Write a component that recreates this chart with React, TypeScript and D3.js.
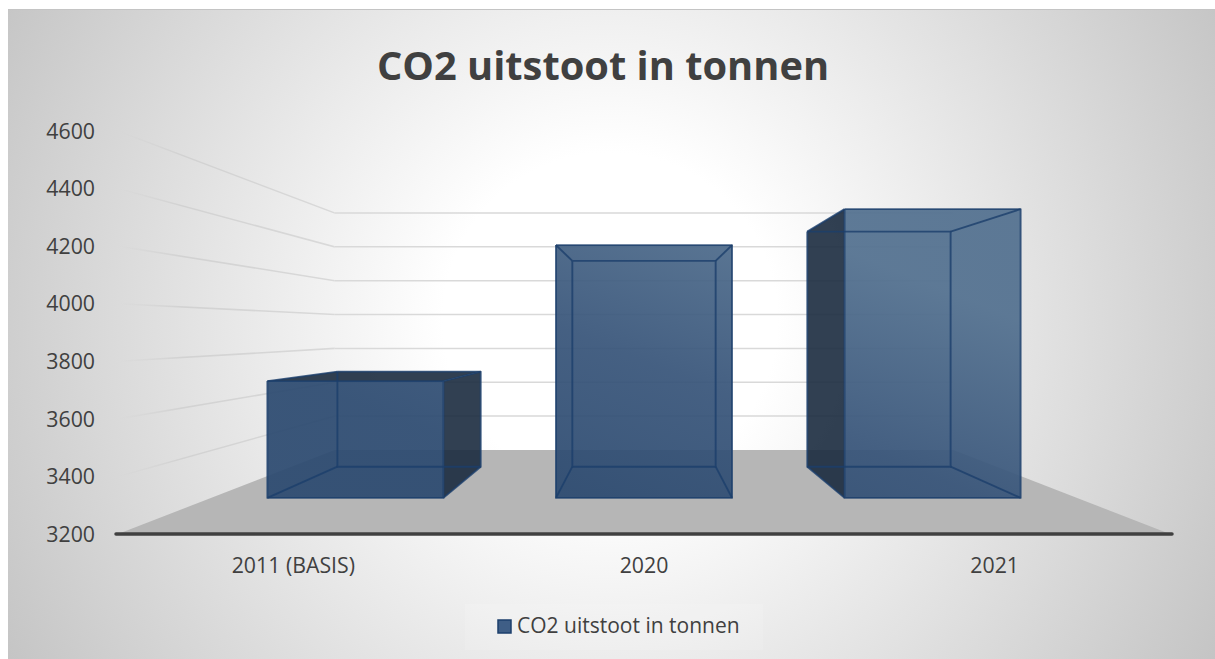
import React from "react";
import * as d3 from "d3";

const categories = ["2011 (BASIS)", "2020", "2021"];
const co2Values = [3693, 4267, 4419];
const yTicks = [3200, 3400, 3600, 3800, 4000, 4200, 4400, 4600];
const chartTitle = "CO2 uitstoot in tonnen";
const seriesName = "CO2 uitstoot in tonnen";

const W = 1215, H = 659;
const vp = { x: 644, y: 330 };
const DEPTH = { front: 1, barFront: 0.823, barBack: 0.67, back: 0.588 };
const x = d3.scaleBand<string>().domain(categories).range([118, 1170]).paddingInner(0.39).paddingOuter(0.195);
const y = d3.scaleLinear().domain([3200, 4600]).range([534, 131]);
const proj = (xf: number, v: number, s: number): [number, number] => [vp.x + (xf - vp.x) * s, vp.y + (y(v) - vp.y) * s];
const poly = (pts: [number, number][]) => (d3.line()(pts) as string) + "Z";
const FONT = "'Open Sans', sans-serif";
const EDGE = "#1c3f6c";

function Bar({ cat, value }: { cat: string; value: number }) {
  const x0 = x(cat)!, x1 = x0 + x.bandwidth();
  const b = 3200;
  const F = { bl: proj(x0, b, DEPTH.barFront), br: proj(x1, b, DEPTH.barFront), tl: proj(x0, value, DEPTH.barFront), tr: proj(x1, value, DEPTH.barFront) };
  const K = { bl: proj(x0, b, DEPTH.barBack), br: proj(x1, b, DEPTH.barBack), tl: proj(x0, value, DEPTH.barBack), tr: proj(x1, value, DEPTH.barBack) };
  const outerFaces: [number, number][][] = [];
  if (K.tl[0] < F.tl[0]) outerFaces.push([F.tl, K.tl, K.bl, F.bl]);
  if (K.tr[0] > F.tr[0]) outerFaces.push([F.tr, K.tr, K.br, F.br]);
  if (K.tl[1] < F.tl[1]) outerFaces.push([F.tl, F.tr, K.tr, K.tl]);
  const edges: [number, number][][] = [
    [K.tl, K.tr, K.br, K.bl, K.tl],
    [F.tl, K.tl], [F.tr, K.tr], [F.bl, K.bl], [F.br, K.br],
    [F.tl, F.tr, F.br, F.bl, F.tl],
  ];
  return (
    <g>
      {outerFaces.map((f, i) => (
        <path key={i} d={poly(f)} fill="#1b2b3f" fillOpacity={0.9} stroke="none" />
      ))}
      <path d={poly([F.tl, F.tr, F.br, F.bl])} fill="url(#barFill)" fillOpacity={0.93} />
      {edges.map((e, i) => (
        <path key={i} d={d3.line()(e) as string} fill="none" stroke={EDGE} strokeOpacity={0.8} strokeWidth={1.9} strokeLinejoin="round" />
      ))}
    </g>
  );
}

export default function App() {
  return (
    <svg width={W} height={H} style={{ position: "absolute", left: 0, top: 0, display: "block" }}>
      <defs>
        <radialGradient id="bg" gradientUnits="userSpaceOnUse" cx={0} cy={0} r={1} gradientTransform="translate(610 320) scale(760 760)">
          <stop offset="0.22" stopColor="#ffffff" />
          <stop offset="1" stopColor="#bdbdbd" />
        </radialGradient>
        <linearGradient id="barFill" gradientUnits="userSpaceOnUse" x1={720} y1={200} x2={600} y2={500}>
          <stop offset="0" stopColor="#52708f" />
          <stop offset="0.55" stopColor="#375479" />
          <stop offset="1" stopColor="#2c4a70" />
        </linearGradient>
        <linearGradient id="wall" gradientUnits="objectBoundingBox" x1="0" y1="0" x2="1" y2="0">
          <stop offset="0" stopColor="#d0d0d0" stopOpacity={0} />
          <stop offset="0.3" stopColor="#d0d0d0" stopOpacity={0.9} />
          <stop offset="1" stopColor="#d9d9d9" stopOpacity={1} />
        </linearGradient>
      </defs>
      <rect x={8} y={9} width={W - 8} height={H - 9} fill="url(#bg)" />
      <line x1={8} x2={W} y1={9.5} y2={9.5} stroke="#c4c4c4" />
      <path d={poly([proj(118, 3200, DEPTH.front), proj(1170, 3200, DEPTH.front), proj(1170, 3200, DEPTH.back), proj(118, 3200, DEPTH.back)])} fill="#b6b6b6" />
      {yTicks.slice(1).map((t) => {
        const a = proj(118, t, DEPTH.front), c = proj(118, t, DEPTH.back), d = proj(1170, t, DEPTH.back);
        return (
          <g key={t}>
            <polygon points={`${a[0]},${a[1] - 0.8} ${c[0]},${c[1] - 0.8} ${c[0]},${c[1] + 0.8} ${a[0]},${a[1] + 0.8}`} fill="url(#wall)" />
            <line x1={c[0]} x2={d[0]} y1={c[1]} y2={d[1]} stroke="#d9d9d9" strokeWidth={1.5} />
          </g>
        );
      })}
      {categories.map((c, i) => (
        <Bar key={c} cat={c} value={co2Values[i]} />
      ))}
      <line x1={116} x2={1172} y1={y(3200)} y2={y(3200)} stroke="#404040" strokeWidth={3.5} strokeLinecap="round" />
      <g fontFamily={FONT} fill="#404040" fontSize={21.3}>
        {yTicks.map((t) => (
          <text key={t} x={95} y={y(t)} dy="0.36em" textAnchor="end">{t}</text>
        ))}
        {categories.map((c) => (
          <text key={c} x={x(c)! + x.bandwidth() / 2} y={573} textAnchor="middle">{c}</text>
        ))}
      </g>
      <text x={603} y={80} textAnchor="middle" fontFamily={FONT} fontWeight={700} fontSize={39.8} fill="#404040">{chartTitle}</text>
      <rect x={465} y={604} width={298} height={46} fill="#ffffff" fillOpacity={0.12} />
      <rect x={498} y={620} width={13} height={13} fill="#3f5e86" stroke={EDGE} strokeWidth={1.5} />
      <text x={517} y={633} fontFamily={FONT} fontSize={21} fill="#404040">{seriesName}</text>
    </svg>
  );
}
